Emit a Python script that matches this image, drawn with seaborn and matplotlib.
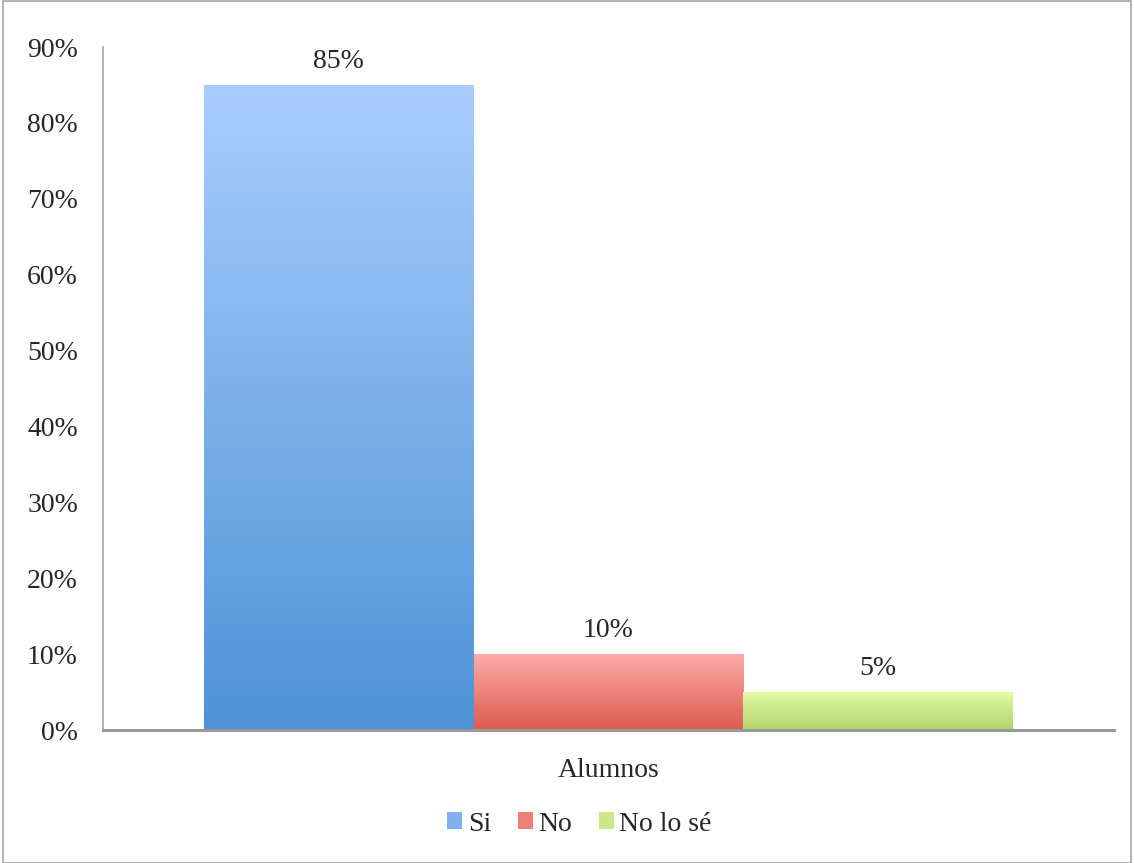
import numpy as np
import pandas as pd
import matplotlib
matplotlib.use("Agg")
import matplotlib.pyplot as plt
from matplotlib.colors import LinearSegmentedColormap
from matplotlib.patches import Rectangle
from matplotlib.ticker import PercentFormatter
import seaborn as sns

# datos
grupo = ["Alumnos"]
respuestas = ["Si", "No", "No lo sé"]
valores = [0.85, 0.10, 0.05]

# colores degradados (arriba, abajo)
top_colors = ["#AACDFE", "#FFABA8", "#E2FAA6"]
bottom_colors = ["#4E93D6", "#DC5A4F", "#B2D568"]
mid_colors = ["#7FB1EC", "#EE8079", "#CCE98A"]

df = pd.DataFrame({"grupo": grupo * len(respuestas),
                   "respuesta": respuestas,
                   "valor": valores})

sns.set_style("white")
plt.rcParams['font.family'] = ['Liberation Serif', 'DejaVu Serif']

fig = plt.figure(figsize=(11.34, 8.63), dpi=100)
ax = fig.add_axes([0.0908, 0.1541, 0.8916, 0.7914])

sns.barplot(data=df, x="grupo", y="valor", hue="respuesta", palette=mid_colors,
            width=0.8, gap=0, ax=ax, legend=False, saturation=1)

ax.set_ylim(0, 0.9)
ax.yaxis.set_major_formatter(PercentFormatter(1.0, decimals=0))
ax.set_yticks(np.arange(0, 0.91, 0.1))
ax.tick_params(axis='y', labelsize=20, pad=18, length=0)
ax.tick_params(axis='x', labelsize=20, pad=20, length=0)
ax.set_xlabel("")
ax.set_ylabel("")

for s in ["top", "right"]:
    ax.spines[s].set_visible(False)
ax.spines["left"].set_color("#A6A6A6")
ax.spines["left"].set_linewidth(1.2)
ax.spines["bottom"].set_color("#999999")
ax.spines["bottom"].set_linewidth(2.2)
ax.spines["bottom"].set_zorder(5)

# degradado en cada barra
for patch, c_top, c_bot in zip(ax.patches, top_colors, bottom_colors):
    x0, y0 = patch.get_x(), patch.get_y()
    w, h = patch.get_width(), patch.get_height()
    cmap = LinearSegmentedColormap.from_list("g", [c_bot, c_top])
    grad = np.linspace(0, 1, 256).reshape(-1, 1)
    im = ax.imshow(grad, cmap=cmap, origin="lower", aspect="auto",
                   extent=[x0, x0 + w, y0, y0 + h], zorder=patch.get_zorder() + 0.1)
    im.set_clip_path(patch)
    patch.set_edgecolor("none")

ax.set_xlim(-0.5, 0.5)
ax.set_ylim(0, 0.9)

for cont in ax.containers:
    ax.bar_label(cont, labels=[f"{v*100:.0f}%" for v in cont.datavalues],
                 padding=8, fontsize=20)

handles = [Rectangle((0, 0), 1, 1, facecolor=c, edgecolor="none") for c in mid_colors]
fig.legend(handles, respuestas, loc="center", bbox_to_anchor=(0.511, 0.045), ncol=3,
           frameon=False, fontsize=20, handlelength=0.55, handleheight=0.55,
           handletextpad=0.2, columnspacing=0.95)

fig.patches.append(Rectangle((0.003, 0.0), 0.994, 0.999, transform=fig.transFigure,
                             fill=False, edgecolor="#A6A6A6", linewidth=1.2))

fig.savefig("out.png", dpi=100)
